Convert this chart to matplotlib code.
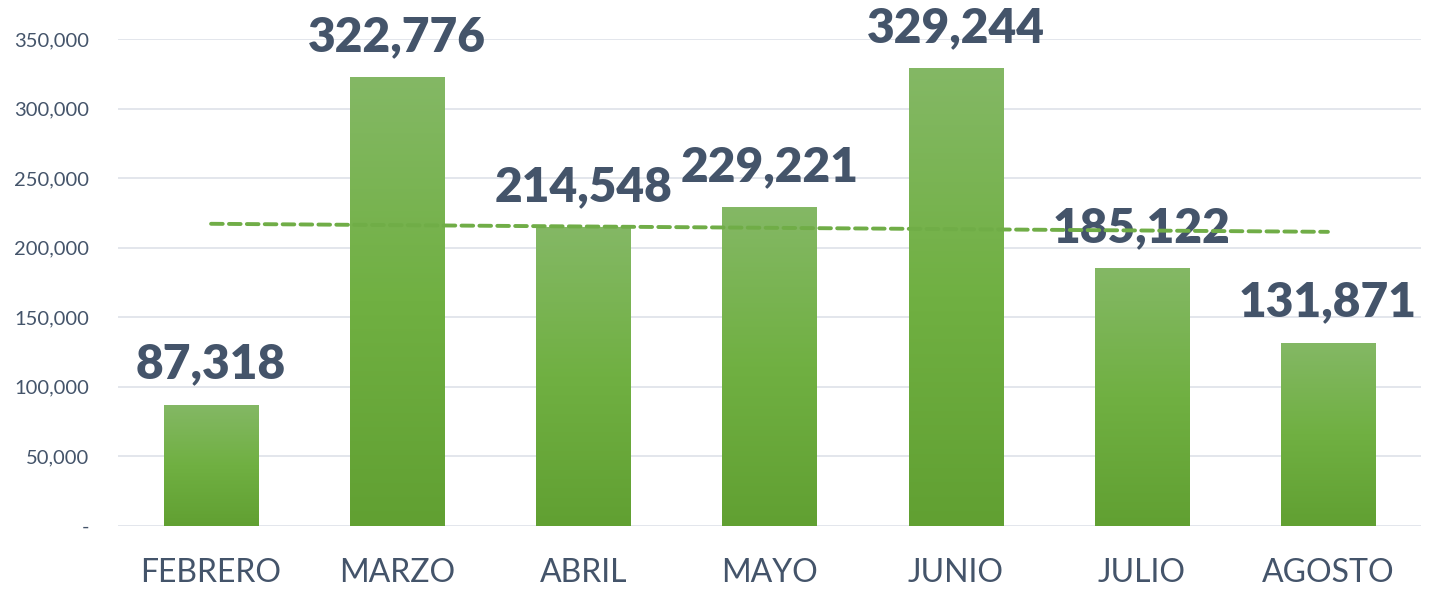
import numpy as np
import matplotlib.pyplot as plt
from matplotlib.colors import LinearSegmentedColormap
from matplotlib.ticker import FuncFormatter

meses = ['FEBRERO', 'MARZO', 'ABRIL', 'MAYO', 'JUNIO', 'JULIO', 'AGOSTO']
valores = [87318, 322776, 214548, 229221, 329244, 185122, 131871]

plt.rcParams['font.family'] = ['Lato', 'DejaVu Sans']
texto = '#44546A'

fig = plt.figure(figsize=(14.39, 5.89), dpi=100)
ax = fig.add_axes([118 / 1439, 63 / 589, (1421 - 118) / 1439, 487 / 589])

x = np.arange(len(meses))
bars = ax.bar(x, valores, width=0.505, color='none', zorder=2)

# degradado verde en cada barra
cmap = LinearSegmentedColormap.from_list('verde', ['#61A032', '#70B042', '#84B865'])
grad = np.linspace(0, 1, 256).reshape(-1, 1)
for b in bars:
    x0, w, h = b.get_x(), b.get_width(), b.get_height()
    im = ax.imshow(grad, cmap=cmap, origin='lower', aspect='auto',
                   extent=[x0, x0 + w, 0, h], zorder=2)
    im.set_clip_path(b)

for xi, v in zip(x, valores):
    ax.annotate(f'{v:,}', (xi, v), xytext=(0, 13), textcoords='offset points',
                ha='center', va='bottom', fontsize=34.5, fontweight='heavy',
                color=texto, zorder=3)

# linea de tendencia lineal
m, c = np.polyfit(x, valores, 1)
ax.plot(x, m * x + c, color='#70AD47', lw=2.8, ls=(0, (3.0, 1.6)),
        dash_capstyle='round', zorder=4)

ax.set_xlim(-0.5, len(meses) - 0.5)
ax.set_ylim(0, 350000)
ax.set_yticks(np.arange(0, 350001, 50000))
ax.yaxis.set_major_formatter(FuncFormatter(lambda v, p: '-' if v == 0 else f'{int(v):,}'))
ax.set_xticks(x)
ax.set_xticklabels(meses)
ax.tick_params(axis='y', length=0, pad=21, labelsize=14.5, labelcolor=texto)
ax.tick_params(axis='x', length=0, pad=23, labelsize=23, labelcolor=texto)
ax.grid(axis='y', color='#E1E4EA', lw=1.3, zorder=0)
ax.set_axisbelow(True)
for s in ax.spines.values():
    s.set_visible(False)

fig.savefig('out.png', dpi=100)
